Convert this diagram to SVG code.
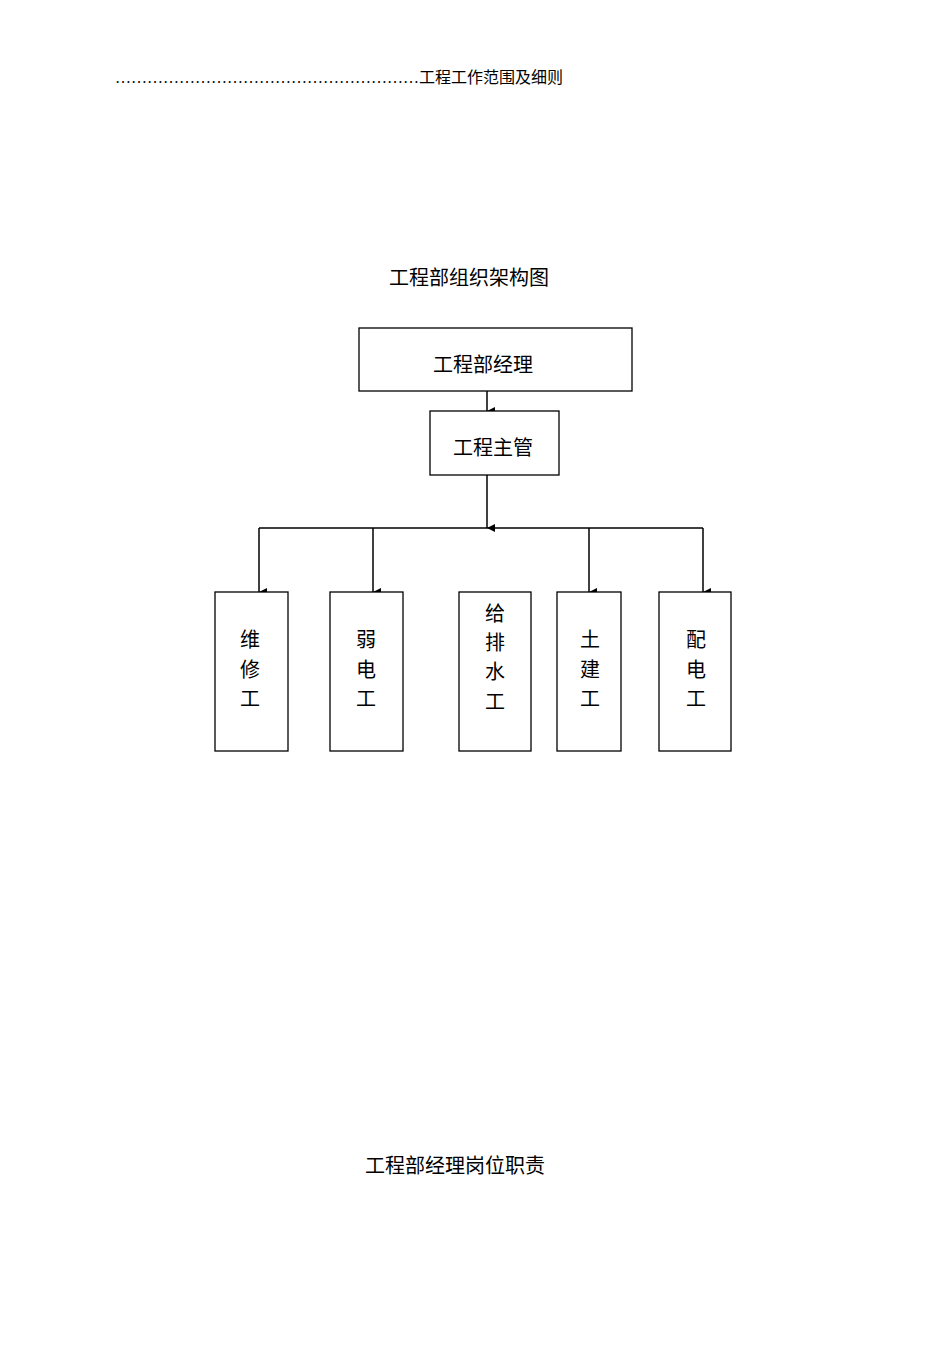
<svg xmlns="http://www.w3.org/2000/svg" width="950" height="1345" viewBox="0 0 950 1345">
<style>
text{font-family:"Liberation Serif","Noto Sans CJK SC",serif;fill:#000}
.b{fill:#fff;stroke:#000;stroke-width:1.3}
.c{stroke:#000;stroke-width:1.5;fill:none}
.t{font-size:20px;text-anchor:middle}
</style>
<defs><marker id="a" markerWidth="10" markerHeight="10" refX="5" refY="8" orient="auto" markerUnits="userSpaceOnUse"><path d="M1,0 L9,0 L5,8 Z" fill="#000"/></marker></defs>
<text x="115" y="83" font-size="16">…………………………………………………工程工作范围及细则</text>
<text x="469" y="285" class="t" font-size="21">工程部组织架构图</text>
<text x="455" y="1173" class="t" font-size="21">工程部经理岗位职责</text>
<g id="connectors">
<path class="c" d="M487,391 V411" marker-end="url(#a)"/>
<path class="c" d="M487,475 V528" marker-end="url(#a)"/>
<path class="c" d="M259,528 H703"/>
<path class="c" d="M259,528 V592" marker-end="url(#a)"/>
<path class="c" d="M373,528 V592" marker-end="url(#a)"/>
<path class="c" d="M589,528 V592" marker-end="url(#a)"/>
<path class="c" d="M703,528 V592" marker-end="url(#a)"/>
</g>
<g id="n1"><rect class="b" x="359" y="328" width="273" height="63"/><text class="t" x="483" y="372">工程部经理</text></g>
<g id="n2"><rect class="b" x="430" y="411" width="129" height="64"/><text class="t" x="493" y="455">工程主管</text></g>
<g id="n3"><rect class="b" x="215" y="592" width="73" height="159"/><text class="t" x="250" y="647">维</text><text class="t" x="250" y="677">修</text><text class="t" x="250" y="706">工</text></g>
<g id="n4"><rect class="b" x="330" y="592" width="73" height="159"/><text class="t" x="366" y="647">弱</text><text class="t" x="366" y="677">电</text><text class="t" x="366" y="706">工</text></g>
<g id="n5"><rect class="b" x="459" y="592" width="72" height="159"/><text class="t" x="495" y="621">给</text><text class="t" x="495" y="650">排</text><text class="t" x="495" y="679">水</text><text class="t" x="495" y="709">工</text></g>
<g id="n6"><rect class="b" x="557" y="592" width="64" height="159"/><text class="t" x="590" y="647">土</text><text class="t" x="590" y="677">建</text><text class="t" x="590" y="706">工</text></g>
<g id="n7"><rect class="b" x="659" y="592" width="72" height="159"/><text class="t" x="696" y="647">配</text><text class="t" x="696" y="677">电</text><text class="t" x="696" y="706">工</text></g>
</svg>
